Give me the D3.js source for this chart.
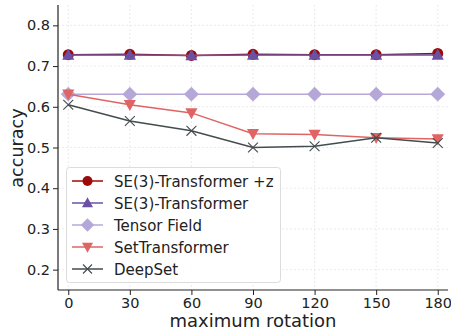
<!DOCTYPE html>
<html><head><meta charset="utf-8">
<script src="https://cdn.jsdelivr.net/npm/d3@7"></script>
<style>body{margin:0;background:#fff;}svg{display:block;font-family:"DejaVu Sans",sans-serif;}</style>
</head><body>
<svg id="c" width="451" height="330"></svg>
<script>
const rotations = [0, 30, 60, 90, 120, 150, 180];
const xTicks = [0, 30, 60, 90, 120, 150, 180];
const yTicks = [0.2, 0.3, 0.4, 0.5, 0.6, 0.7, 0.8];
const seriesNames = ["SE(3)-Transformer +z", "SE(3)-Transformer", "Tensor Field", "SetTransformer", "DeepSet"];
const se3z = [0.728, 0.729, 0.726, 0.729, 0.728, 0.728, 0.731];
const se3 = [0.727, 0.727, 0.726, 0.727, 0.727, 0.727, 0.727];
const tensorField = [0.631, 0.631, 0.631, 0.631, 0.631, 0.631, 0.631];
const setTransformer = [0.631, 0.605, 0.585, 0.534, 0.532, 0.524, 0.521];
const deepSet = [0.605, 0.565, 0.541, 0.500, 0.503, 0.524, 0.511];

const seriesData = [se3z, se3, tensorField, setTransformer, deepSet];
const colors = ["#9e0a0a", "#6a51a3", "#b5a8d8", "#e06464", "#434c4e"];
const markers = ["circle", "triangle", "diamond", "triangleDown", "x"];

const svg = d3.select("#c");
const L = 58, R = 448, T = 5, B = 290;
const x = d3.scaleLinear().domain([-5, 185]).range([L, R]);
const y = d3.scaleLinear().domain([0.15, 0.85]).range([B, T]);

// grid
const g = svg.append("g");
g.selectAll(".gx").data(xTicks).join("line")
  .attr("x1", d => x(d)).attr("x2", d => x(d)).attr("y1", T).attr("y2", B)
  .attr("stroke", "#e6e6e6").attr("stroke-width", 0.8).attr("stroke-dasharray", "2,2");
g.selectAll(".gy").data(yTicks).join("line")
  .attr("x1", L).attr("x2", R).attr("y1", d => y(d)).attr("y2", d => y(d))
  .attr("stroke", "#e6e6e6").attr("stroke-width", 0.8).attr("stroke-dasharray", "2,2");

// axes
const xAxis = d3.axisBottom(x).tickValues(xTicks).tickSize(5).tickPadding(3).tickFormat(d3.format("d"));
const yAxis = d3.axisLeft(y).tickValues(yTicks).tickSize(5).tickPadding(3).tickFormat(d3.format(".1f"));
const ax = svg.append("g").attr("transform", `translate(0,${B})`).call(xAxis);
const ay = svg.append("g").attr("transform", `translate(${L},0)`).call(yAxis);
[ax, ay].forEach(a => {
  a.select(".domain").attr("stroke", "#222").attr("stroke-width", 1.2);
  a.selectAll(".tick line").attr("stroke", "#222").attr("stroke-width", 1);
  a.selectAll(".tick text").attr("fill", "#222").attr("font-size", 14.5).attr("font-family", "DejaVu Sans");
});
ax.select(".domain").attr("d", `M${L},0H${R}`);
ay.select(".domain").attr("d", `M0,${T}V${B}`);

svg.append("text").attr("x", 253).attr("y", 327).attr("text-anchor", "middle")
  .attr("font-size", 18).attr("fill", "#222").text("maximum rotation");
svg.append("text").attr("transform", `translate(23,148) rotate(-90)`).attr("text-anchor", "middle")
  .attr("font-size", 17.6).attr("fill", "#222").text("accuracy");

function drawMarker(sel, type, color, cx, cy, s) {
  if (type === "circle") {
    sel.append("circle").attr("cx", cx).attr("cy", cy).attr("r", s).attr("fill", color);
  } else if (type === "triangle") {
    sel.append("path").attr("d", `M${cx},${cy - s * 1.15}L${cx + s * 1.1},${cy + s * 0.85}L${cx - s * 1.1},${cy + s * 0.85}Z`).attr("fill", color);
  } else if (type === "triangleDown") {
    sel.append("path").attr("d", `M${cx},${cy + s * 1.15}L${cx + s * 1.1},${cy - s * 0.85}L${cx - s * 1.1},${cy - s * 0.85}Z`).attr("fill", color);
  } else if (type === "diamond") {
    const d = s * 1.35;
    sel.append("path").attr("d", `M${cx},${cy - d}L${cx + d},${cy}L${cx},${cy + d}L${cx - d},${cy}Z`).attr("fill", color);
  } else if (type === "x") {
    const d = s * 0.9;
    sel.append("path").attr("d", `M${cx - d},${cy - d}L${cx + d},${cy + d}M${cx - d},${cy + d}L${cx + d},${cy - d}`)
      .attr("stroke", color).attr("stroke-width", 1.1).attr("fill", "none");
  }
}

const line = d3.line().x((d, i) => x(rotations[i])).y(d => y(d));
seriesData.forEach((data, k) => {
  const sg = svg.append("g");
  sg.append("path").datum(data).attr("d", line).attr("fill", "none")
    .attr("stroke", colors[k]).attr("stroke-width", 1.5);
  data.forEach((v, i) => drawMarker(sg, markers[k], colors[k], x(rotations[i]), y(v), 5.5));
});

// legend
const lg = svg.append("g");
lg.append("rect").attr("x", 66.5).attr("y", 167.5).attr("width", 214).attr("height", 115).attr("rx", 3)
  .attr("fill", "rgba(255,255,255,0.85)").attr("stroke", "#dcdcdc").attr("stroke-width", 1);
seriesNames.forEach((name, k) => {
  const yy = 181 + k * 22;
  lg.append("line").attr("x1", 72).attr("x2", 103).attr("y1", yy).attr("y2", yy)
    .attr("stroke", colors[k]).attr("stroke-width", 1.5);
  drawMarker(lg, markers[k], colors[k], 87.5, yy, 5);
  lg.append("text").attr("x", 114).attr("y", yy + 5.5).attr("font-size", 15).attr("fill", "#222").text(name);
});
</script>
</body></html>
